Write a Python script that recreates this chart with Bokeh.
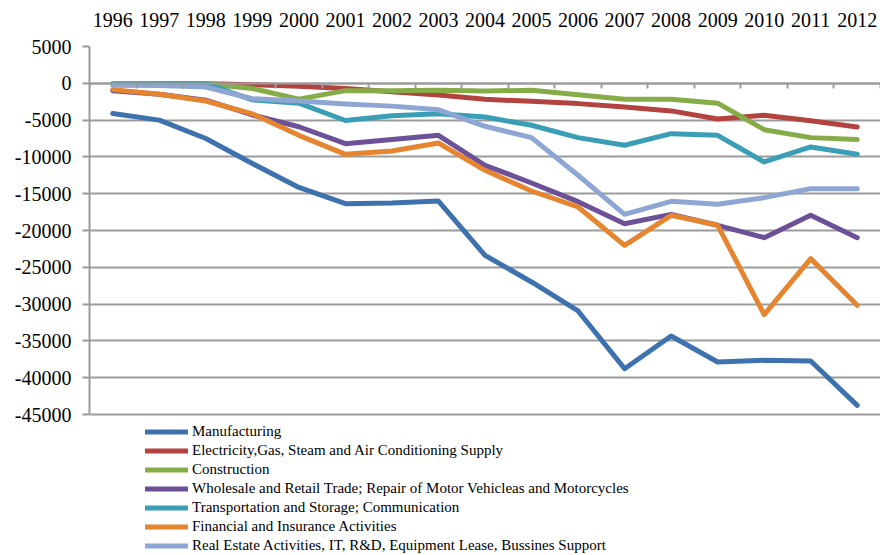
from bokeh.plotting import figure
from bokeh.models import (LinearAxis, FixedTicker, Range1d, Legend, LegendItem,
                          NumeralTickFormatter)
from bokeh.embed import file_html
from bokeh.resources import INLINE

years = ["1996", "1997", "1998", "1999", "2000", "2001", "2002", "2003", "2004",
         "2005", "2006", "2007", "2008", "2009", "2010", "2011", "2012"]

manufacturing = [-4100, -5000, -7500, -10900, -14150, -16350, -16260, -15990, -23370,
                 -26990, -30930, -38770, -34330, -37860, -37640, -37730, -43750]
electricity = [-100, -50, -50, -200, -400, -700, -1150, -1600, -2170,
               -2450, -2760, -3220, -3750, -4850, -4350, -5100, -5940]
construction = [-50, -50, -50, -700, -2150, -1000, -1000, -950, -1040,
                -950, -1540, -2170, -2170, -2700, -6300, -7380, -7650]
wholesale = [-1000, -1500, -2300, -4300, -5900, -8200, -7650, -7070, -11140,
             -13540, -16080, -19070, -17800, -19290, -20970, -17930, -20970]
transport = [-100, -100, -50, -2250, -2700, -5050, -4400, -4150, -4580,
             -5700, -7380, -8420, -6840, -7070, -10690, -8650, -9650]
financial = [-860, -1500, -2400, -4150, -7070, -9650, -9190, -8110, -11820,
             -14630, -16800, -22010, -17930, -19290, -31430, -23820, -30160]
real_estate = [-270, -300, -500, -2100, -2400, -2800, -3100, -3600, -5840,
               -7380, -12500, -17800, -16030, -16440, -15530, -14310, -14310]

series_names = [
    "Manufacturing",
    "Electricity,Gas, Steam and Air Conditioning Supply",
    "Construction",
    "Wholesale and Retail Trade; Repair of Motor Vehicleas and Motorcycles",
    "Transportation and Storage; Communication",
    "Financial and Insurance Activities",
    "Real Estate Activities, IT, R&D, Equipment Lease, Bussines Support",
]
series_values = [manufacturing, electricity, construction, wholesale, transport,
                 financial, real_estate]
colors = ["#3E72AE", "#B3433F", "#86AC47", "#6C5198", "#3A9FB6", "#E5852F", "#8DA6D3"]

y_ticks = list(range(-45000, 5001, 5000))
y_min, y_max = -45000, 5000

FONT = "Liberation Serif"
GRID = "#9C9C9C"

x = list(range(len(years)))

# the frame extends below the value axis to leave room for the legend
p = figure(width=880, height=555, output_backend="svg", toolbar_location=None,
           x_range=Range1d(-0.5, len(years) - 0.5), y_range=Range1d(-64150, y_max),
           x_axis_location=None, y_axis_location=None,
           min_border_left=89, min_border_right=0, min_border_top=46,
           min_border_bottom=0)
p.outline_line_color = None
p.background_fill_color = "white"
p.border_fill_color = "white"

# left axis
yaxis = LinearAxis(ticker=FixedTicker(ticks=y_ticks),
                   formatter=NumeralTickFormatter(format="0"),
                   bounds=(y_min, y_max))
yaxis.axis_line_color = GRID
yaxis.axis_line_width = 2
yaxis.major_tick_line_color = GRID
yaxis.major_tick_line_width = 2
yaxis.major_tick_out = 7
yaxis.major_tick_in = 0
yaxis.minor_tick_line_color = None
yaxis.major_label_standoff = 11
yaxis.major_label_text_font = FONT
yaxis.major_label_text_font_size = "20px"
yaxis.major_label_text_color = "black"
p.add_layout(yaxis, "left")

# top axis with year labels
top = LinearAxis(ticker=FixedTicker(ticks=x),
                 major_label_overrides={i: y for i, y in enumerate(years)})
top.axis_line_color = None
top.major_tick_line_color = None
top.minor_tick_line_color = None
top.major_label_standoff = 14
top.major_label_text_font = FONT
top.major_label_text_font_size = "20px"
top.major_label_text_color = "black"
p.add_layout(top, "above")

# category axis crossing at zero (tick marks between categories)
zero_axis = LinearAxis(ticker=FixedTicker(ticks=[i - 0.5 for i in range(len(years) + 1)]),
                       fixed_location=0)
zero_axis.axis_line_color = GRID
zero_axis.axis_line_width = 2
zero_axis.major_tick_line_color = GRID
zero_axis.major_tick_line_width = 2
zero_axis.major_tick_out = 5
zero_axis.major_tick_in = 0
zero_axis.minor_tick_line_color = None
zero_axis.major_label_text_font_size = "0px"
zero_axis.major_label_text_color = None
p.add_layout(zero_axis, "below")

# gridlines
p.ygrid.ticker = FixedTicker(ticks=y_ticks)
p.ygrid.grid_line_color = GRID
p.ygrid.grid_line_width = 2
p.xgrid.grid_line_color = None

items = []
for name, vals, col in zip(series_names, series_values, colors):
    r = p.line(x, vals, line_color=col, line_width=5, line_join="round", line_cap="round")
    items.append(LegendItem(label=name, renderers=[r]))

legend = Legend(items=items, location=(56, 0))
legend.label_text_font = FONT
legend.label_text_font_size = "15px"
legend.label_text_color = "black"
legend.label_height = 19
legend.glyph_height = 19
legend.glyph_width = 43
legend.label_standoff = 4
legend.spacing = 0
legend.padding = 0
legend.margin = 0
legend.border_line_color = None
legend.background_fill_alpha = 0
p.add_layout(legend, "center")

open("out.html", "w").write(file_html(p, INLINE))
